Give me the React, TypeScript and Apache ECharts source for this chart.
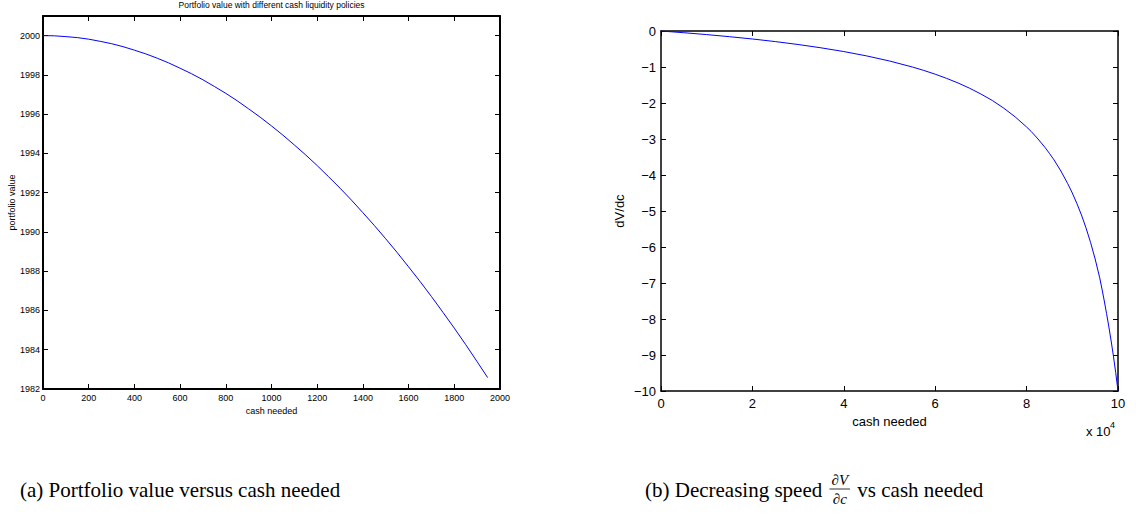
import React, { useEffect, useRef } from "react";
import * as echarts from "echarts";

// (a) Portfolio value vs cash needed
const cashNeededA = [0, 50, 100, 150, 200, 250, 300, 350, 400, 450, 500, 550, 600, 650, 700, 750, 800, 850, 900, 950, 1000, 1050, 1100, 1150, 1200, 1250, 1300, 1350, 1400, 1450, 1500, 1550, 1600, 1650, 1700, 1750, 1800, 1850, 1900, 1946];
const portfolioValue = [2000.0, 1999.99, 1999.95, 1999.9, 1999.82, 1999.71, 1999.59, 1999.44, 1999.26, 1999.07, 1998.85, 1998.61, 1998.34, 1998.06, 1997.75, 1997.41, 1997.06, 1996.68, 1996.27, 1995.85, 1995.4, 1994.93, 1994.43, 1993.92, 1993.38, 1992.81, 1992.23, 1991.62, 1990.98, 1990.33, 1989.65, 1988.95, 1988.22, 1987.48, 1986.71, 1985.91, 1985.1, 1984.26, 1983.39, 1982.58];

// (b) dV/dc vs cash needed (x 10^4)
const cashNeededB = [0, 0.5, 1, 1.5, 2, 2.5, 3, 3.5, 4, 4.5, 5, 5.5, 5.75, 6, 6.25, 6.5, 6.75, 7, 7.25, 7.5, 7.75, 8, 8.1, 8.25, 8.4, 8.5, 8.6, 8.75, 8.9, 9, 9.1, 9.2, 9.3, 9.4, 9.5, 9.6, 9.65, 9.7, 9.75, 9.8, 9.85, 9.9, 9.95, 10];
const dVdc = [0, -0.048, -0.1, -0.158, -0.222, -0.294, -0.375, -0.467, -0.571, -0.692, -0.833, -1.0, -1.095, -1.2, -1.316, -1.444, -1.588, -1.75, -1.93, -2.143, -2.385, -2.667, -2.79, -3.0, -3.23, -3.4, -3.58, -3.889, -4.24, -4.5, -4.79, -5.11, -5.47, -5.875, -6.333, -6.857, -7.17, -7.5, -7.85, -8.22, -8.61, -9.03, -9.49, -10];

const titleA = "Portfolio value with different cash liquidity policies";
const xNameA = "cash needed";
const yNameA = "portfolio value";
const xNameB = "cash needed";
const yNameB = "dV/dc";
const captionA = "(a) Portfolio value versus cash needed";
const captionB1 = "(b) Decreasing speed ";
const captionB2 = " vs cash needed";

const W = 1136;
const H = 520;
const SANS = "Liberation Sans, Arial, Helvetica, sans-serif";
const SERIF = "Liberation Serif, Times New Roman, serif";

function measure(t: string, font: string) {
  const c = document.createElement("canvas").getContext("2d");
  if (!c) return t.length * 9;
  c.font = font;
  return c.measureText(t).width;
}

export default function App() {
  const ref = useRef<HTMLDivElement>(null);
  useEffect(() => {
    if (!ref.current) return;
    const chart = echarts.init(ref.current, null, { renderer: "svg", width: W, height: H });

    const axisCommon = (lw: number) => ({
      axisLine: { show: true, onZero: false, lineStyle: { color: "#000", width: lw } },
      axisTick: { show: true, inside: true, length: 5, lineStyle: { color: "#000", width: 1 } },
      splitLine: { show: false },
    });

    const capFont = 21;
    const capFontStr = `${capFont}px ${SERIF}`;
    const capAx = 20;
    const capBx = 645;
    const capY = 490;
    const w1 = measure(captionB1, capFontStr);
    const fracFont = 15;
    const fracW = Math.max(measure("∂V", `italic ${fracFont}px ${SERIF}`), measure("∂c", `italic ${fracFont}px ${SERIF}`)) + 4;
    const fracX = capBx + w1 + 2;

    const option: any = {
      animation: false,
      backgroundColor: "#fff",
      grid: [
        { left: 43, top: 16, width: 457, height: 373, outerBoundsMode: "none" },
        { left: 661, top: 31, width: 457, height: 360, outerBoundsMode: "none" },
      ],
      xAxis: [
        {
          gridIndex: 0, type: "value", position: "bottom", min: 0, max: 2000, interval: 200,
          ...axisCommon(2),
          axisLabel: { fontSize: 9, color: "#000", margin: 4, fontFamily: SANS, formatter: (v: number) => String(v) },
          name: xNameA, nameLocation: "middle", nameGap: 15,
          nameTextStyle: { fontSize: 9, color: "#000", fontFamily: SANS },
        },
        {
          gridIndex: 0, type: "value", position: "top", min: 0, max: 2000, interval: 200,
          ...axisCommon(2), axisLabel: { show: false },
        },
        {
          gridIndex: 1, type: "value", position: "bottom", min: 0, max: 10, interval: 2,
          ...axisCommon(1.5),
          axisLabel: { fontSize: 13, color: "#000", margin: 6, fontFamily: SANS, formatter: (v: number) => String(v) },
          name: xNameB, nameLocation: "middle", nameGap: 23,
          nameTextStyle: { fontSize: 13, color: "#000", fontFamily: SANS },
        },
        {
          gridIndex: 1, type: "value", position: "top", min: 0, max: 10, interval: 2,
          ...axisCommon(1.5), axisLabel: { show: false },
        },
      ],
      yAxis: [
        {
          gridIndex: 0, type: "value", position: "left", min: 1982, max: 2001, interval: 2,
          ...axisCommon(2),
          axisLabel: {
            fontSize: 9, color: "#000", margin: 3, fontFamily: SANS,
            formatter: (v: number) => (Math.round(v) % 2 === 0 ? String(v) : ""),
          },
          name: yNameA, nameLocation: "middle", nameGap: 27, nameRotate: 90,
          nameTextStyle: { fontSize: 9, color: "#000", fontFamily: SANS },
        },
        {
          gridIndex: 0, type: "value", position: "right", min: 1982, max: 2001, interval: 2,
          ...axisCommon(2), axisLabel: { show: false },
        },
        {
          gridIndex: 1, type: "value", position: "left", min: -10, max: 0, interval: 1,
          ...axisCommon(1.5),
          axisLabel: {
            fontSize: 13, color: "#000", margin: 5, fontFamily: SANS,
            formatter: (v: number) => String(v).replace("-", "\u2212"),
          },
          name: yNameB, nameLocation: "middle", nameGap: 35, nameRotate: 90,
          nameTextStyle: { fontSize: 13, color: "#000", fontFamily: SANS },
        },
        {
          gridIndex: 1, type: "value", position: "right", min: -10, max: 0, interval: 1,
          ...axisCommon(1.5), axisLabel: { show: false },
        },
      ],
      series: [
        {
          type: "line", xAxisIndex: 0, yAxisIndex: 0, showSymbol: false, symbol: "none",
          lineStyle: { color: "#0000ff", width: 1 },
          data: cashNeededA.map((x, i) => [x, portfolioValue[i]]),
        },
        {
          type: "line", xAxisIndex: 2, yAxisIndex: 2, showSymbol: false, symbol: "none",
          lineStyle: { color: "#0000ff", width: 1 },
          data: cashNeededB.map((x, i) => [x, dVdc[i]]),
        },
      ],
      graphic: [
        {
          type: "text", x: 271.5, y: 5,
          style: { text: titleA, font: `8.5px ${SANS}`, fill: "#000", textAlign: "center", textVerticalAlign: "middle" },
        },
        {
          type: "text", x: 1086, y: 431,
          style: { text: "x 10", font: `13px ${SANS}`, fill: "#000", textAlign: "left", textVerticalAlign: "middle" },
        },
        {
          type: "text", x: 1110, y: 425,
          style: { text: "4", font: `9px ${SANS}`, fill: "#000", textAlign: "left", textVerticalAlign: "middle" },
        },
        {
          type: "text", x: capAx, y: capY,
          style: { text: captionA, font: capFontStr, fill: "#000", textAlign: "left", textVerticalAlign: "middle" },
        },
        {
          type: "text", x: capBx, y: capY,
          style: { text: captionB1, font: capFontStr, fill: "#000", textAlign: "left", textVerticalAlign: "middle" },
        },
        {
          type: "text", x: fracX + fracW / 2, y: capY - 10,
          style: { text: "∂V", font: `italic ${fracFont}px ${SERIF}`, fill: "#000", textAlign: "center", textVerticalAlign: "middle" },
        },
        {
          type: "line",
          shape: { x1: fracX, y1: capY - 1, x2: fracX + fracW, y2: capY - 1 },
          style: { stroke: "#000", lineWidth: 0.8 },
        },
        {
          type: "text", x: fracX + fracW / 2, y: capY + 9,
          style: { text: "∂c", font: `italic ${fracFont}px ${SERIF}`, fill: "#000", textAlign: "center", textVerticalAlign: "middle" },
        },
        {
          type: "text", x: fracX + fracW + 2, y: capY,
          style: { text: captionB2, font: capFontStr, fill: "#000", textAlign: "left", textVerticalAlign: "middle" },
        },
      ],
    };
    chart.setOption(option);
    return () => chart.dispose();
  }, []);
  return (
    <div
      ref={ref}
      style={{ position: "absolute", left: 0, top: 0, width: W, height: H, background: "#fff" }}
    />
  );
}
